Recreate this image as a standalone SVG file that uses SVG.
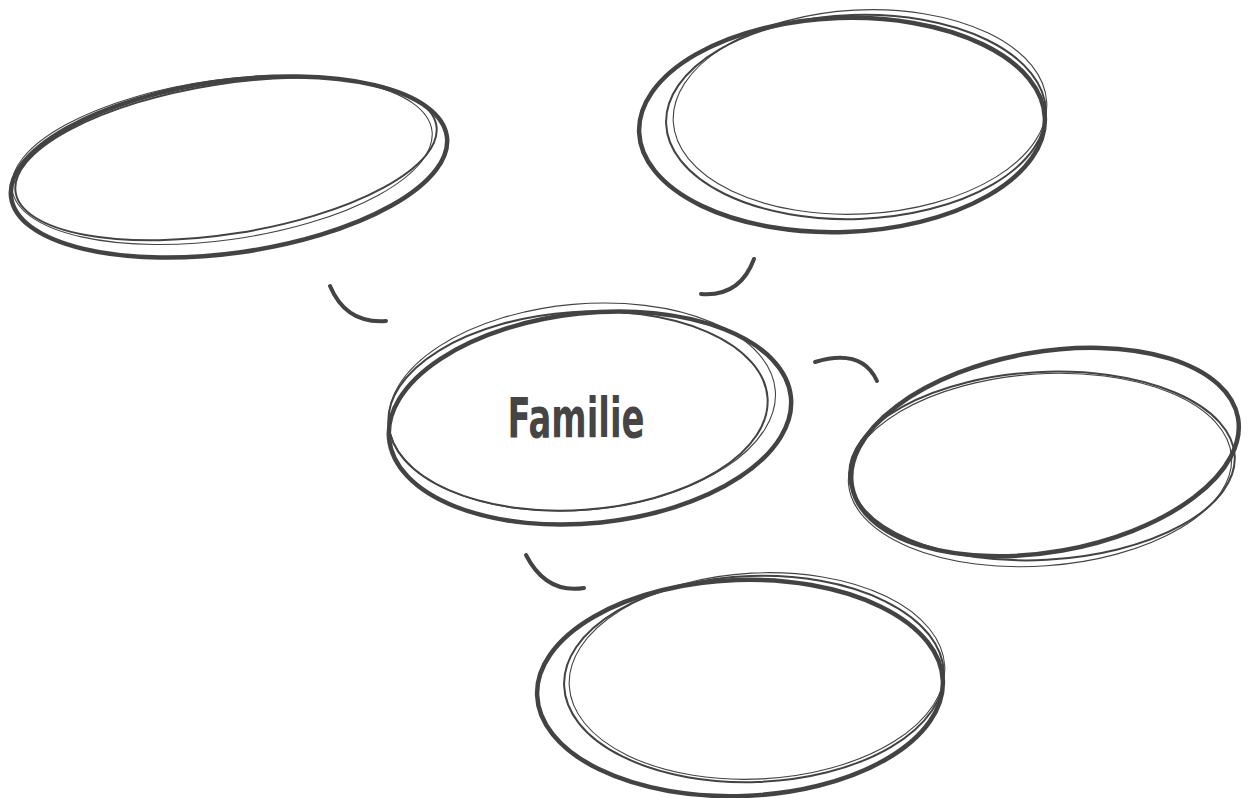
<svg xmlns="http://www.w3.org/2000/svg" width="1251" height="798" viewBox="0 0 1251 798">
<style>
.thick{fill:none;stroke:#434343;stroke-width:4.5}
.mid{fill:none;stroke:#434343;stroke-width:2}
.thin{fill:none;stroke:#434343;stroke-width:1.1}
.conn{fill:none;stroke:#434343;stroke-width:4;stroke-linecap:round}
.label{font-family:"DejaVu Sans Condensed","DejaVu Sans",sans-serif;font-weight:bold;fill:#454545}
</style>
<rect width="1251" height="798" fill="#fff"/>
<g id="connectors">
<path class="conn" d="M330,286 Q346,324 386,321"/>
<path class="conn" d="M754,259 Q740,297 701,294"/>
<path class="conn" d="M815,362 Q862,348 877,381"/>
<path class="conn" d="M526,555 Q546,594 584,588"/>
</g>
<g id="node-top-left">
<ellipse class="thick" cx="229" cy="167" rx="220" ry="86" transform="rotate(-8 229 167)"/>
<ellipse class="mid" cx="226" cy="159" rx="213" ry="75" transform="rotate(-9 226 159)"/>
<ellipse class="thin" cx="222" cy="160" rx="212" ry="80" transform="rotate(-8 222 160)"/>
</g>
<g id="node-top-right">
<ellipse class="thick" cx="842" cy="125" rx="203" ry="107" transform="rotate(-2 842 125)"/>
<ellipse class="mid" cx="856" cy="117" rx="190" ry="102" transform="rotate(-2 856 117)"/>
<ellipse class="thin" cx="860" cy="112" rx="187" ry="102" transform="rotate(-3 860 112)"/>
</g>
<g id="node-center">
<ellipse class="thick" cx="590" cy="418" rx="202" ry="105" transform="rotate(-6 590 418)"/>
<ellipse class="mid" cx="578" cy="411" rx="190" ry="99" transform="rotate(-4 578 411)"/>
<ellipse class="thin" cx="582" cy="407" rx="194" ry="103" transform="rotate(-5 582 407)"/>
<text class="label" x="576" y="437" font-size="56" text-anchor="middle" textLength="137" lengthAdjust="spacingAndGlyphs">Familie</text>
</g>
<g id="node-right">
<ellipse class="thick" cx="1045" cy="452" rx="196" ry="100" transform="rotate(-10 1045 452)"/>
<ellipse class="mid" cx="1042" cy="466" rx="193" ry="94" transform="rotate(-3 1042 466)"/>
<ellipse class="thin" cx="1040" cy="470" rx="192" ry="96" transform="rotate(-4 1040 470)"/>
</g>
<g id="node-bottom">
<ellipse class="thick" cx="740" cy="688" rx="203" ry="108" transform="rotate(-2 740 688)"/>
<ellipse class="mid" cx="754" cy="679" rx="190" ry="103" transform="rotate(-2 754 679)"/>
<ellipse class="thin" cx="757" cy="676" rx="188" ry="103" transform="rotate(-3 757 676)"/>
</g>
</svg>
